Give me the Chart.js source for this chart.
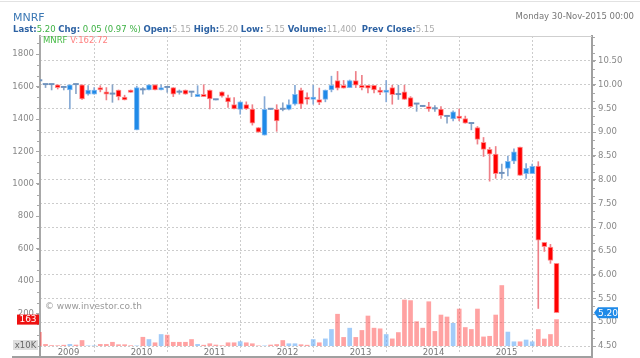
<!DOCTYPE html>
<html><head><meta charset="utf-8">
<script src="https://cdn.jsdelivr.net/npm/chart.js@4.4.0/dist/chart.umd.min.js"></script>
<style>
html,body{margin:0;padding:0;background:#fff;}
#wrap{position:relative;width:640px;height:358px;overflow:hidden;}
#c{position:absolute;left:0;top:0;}
.hdr{position:absolute;font-family:'DejaVu Sans',Verdana,sans-serif;white-space:nowrap;line-height:1;}
#title{left:13px;top:12px;font-size:11px;color:#3c78b4;}
#info{left:13px;top:25px;font-size:8.5px;}
#info b{color:#2d62a3;}
#info .g{color:#3cb043;}
#info .n{color:#aaa;}
#date{right:6px;top:12px;font-size:8.5px;color:#777;}
#topline{position:absolute;left:0;top:1px;width:640px;height:1px;background:#e2e2e2;}
</style></head>
<body><div id="wrap"><canvas id="c" width="640" height="358"></canvas>
<div id="topline"></div>
<div class="hdr" id="title">MNRF</div>
<div class="hdr" id="date">Monday 30-Nov-2015 00:00</div>
<div class="hdr" id="info"><b>Last:</b><span class="g">5.20</span> <b>Chg:</b> <span class="g">0.05 (0.97 %)</span> <b>Open:</b><span class="n">5.15</span> <b>High:</b><span class="n">5.20</span> <b>Low:</b> <span class="n">5.15</span> <b>Volume:</b><span class="n">11,400</span>&nbsp; <b>Prev Close:</b><span class="n">5.15</span></div>
</div>
<script>
// ---- data (monthly candles, MNRF) ----
const months = [
 '2008-10','2008-11','2008-12',
 '2009-01','2009-02','2009-03','2009-04','2009-05','2009-06','2009-07','2009-08','2009-09','2009-10','2009-11','2009-12',
 '2010-01','2010-02','2010-03','2010-04','2010-05','2010-06','2010-07','2010-08','2010-09','2010-10','2010-11','2010-12',
 '2011-01','2011-02','2011-03','2011-04','2011-05','2011-06','2011-07','2011-08','2011-09','2011-10','2011-11','2011-12',
 '2012-01','2012-02','2012-03','2012-04','2012-05','2012-06','2012-07','2012-08','2012-09','2012-10','2012-11','2012-12',
 '2013-01','2013-02','2013-03','2013-04','2013-05','2013-06','2013-07','2013-08','2013-09','2013-10','2013-11','2013-12',
 '2014-01','2014-02','2014-03','2014-04','2014-05','2014-06','2014-07','2014-08','2014-09','2014-10','2014-11','2014-12',
 '2015-01','2015-02','2015-03','2015-04','2015-05','2015-06','2015-07','2015-08','2015-09','2015-10','2015-11'];
const openP = [10.08,10.00,10.00,
 10.00,9.94,9.89,10.00,10.00,9.80,9.80,9.94,9.85,9.80,9.89,9.74,
 9.89,9.05,9.89,9.89,10.00,9.89,9.94,9.94,9.84,9.89,9.84,9.75,
 9.80,9.89,9.68,9.85,9.73,9.58,9.48,9.58,9.49,9.10,8.94,9.48,
 9.48,9.48,9.48,9.59,9.89,9.74,9.69,9.69,9.69,9.89,10.09,9.99,
 9.94,10.09,9.99,9.99,9.99,9.89,9.84,9.94,9.79,9.85,9.73,9.59,
 9.54,9.54,9.49,9.49,9.33,9.28,9.34,9.29,9.18,9.10,8.79,8.64,
 8.54,8.13,8.24,8.39,8.69,8.13,8.13,8.29,6.68,6.58,6.24];
const highP = [10.08,10.00,10.00,
 10.00,9.94,10.00,10.00,10.00,9.98,9.94,9.98,9.94,10.00,9.89,9.78,
 9.89,9.97,9.94,10.00,10.00,10.00,9.94,9.94,9.89,9.89,9.84,9.98,
 10.00,9.89,9.68,9.85,9.78,9.73,9.64,9.64,9.58,9.10,9.75,9.48,
 9.58,9.62,9.68,9.99,9.93,9.83,9.99,9.93,9.89,10.18,10.28,10.09,
 10.10,10.28,10.20,9.99,9.99,9.94,10.09,9.99,9.99,9.99,9.75,9.59,
 9.54,9.63,9.56,9.54,9.33,9.45,9.49,9.34,9.18,9.12,8.89,8.68,
 8.70,8.33,8.50,8.65,8.69,8.34,8.33,8.38,6.68,6.64,6.24];
const lowP = [10.08,9.94,9.89,
 9.91,9.89,9.49,9.81,9.69,9.78,9.80,9.85,9.68,9.63,9.68,9.68,
 9.84,9.05,9.80,9.89,9.89,9.89,9.84,9.75,9.80,9.80,9.75,9.75,
 9.75,9.49,9.68,9.74,9.52,9.49,9.38,9.48,9.15,9.00,8.94,9.48,
 9.02,9.45,9.47,9.57,9.50,9.59,9.59,9.58,9.64,9.85,9.89,9.93,
 9.94,9.94,9.89,9.83,9.83,9.79,9.64,9.59,9.69,9.69,9.52,9.44,
 9.54,9.44,9.44,9.29,9.19,9.24,9.24,9.19,9.05,8.75,8.49,7.97,
 8.03,8.03,8.08,8.34,8.09,8.03,8.13,5.29,6.49,6.24,5.20];
const closeP = [10.08,10.00,10.00,
 9.94,9.94,10.00,10.00,9.70,9.89,9.89,9.89,9.80,9.80,9.75,9.68,
 9.84,9.94,9.89,10.00,9.89,9.94,9.94,9.80,9.84,9.80,9.84,9.80,
 9.75,9.70,9.68,9.76,9.64,9.49,9.64,9.49,9.19,9.00,9.48,9.48,
 9.24,9.48,9.58,9.80,9.59,9.69,9.74,9.63,9.89,9.99,9.93,9.93,
 10.09,9.99,9.94,9.93,9.89,9.84,9.89,9.79,9.79,9.69,9.54,9.59,
 9.54,9.49,9.49,9.35,9.33,9.43,9.29,9.19,9.18,8.85,8.64,8.54,
 8.13,8.13,8.39,8.59,8.09,8.24,8.28,6.73,6.59,6.30,5.20];
// volume in units of 10K shares
const volume = [84,10,3,
 2,5,10,6,34,1,1,10,10,23,8,8,
 2,1,54,40,20,71,67,23,23,23,40,10,
 5,14,6,2,20,20,27,20,14,1,1,6,
 9,34,14,14,8,5,40,20,44,102,196,53,
 110,53,96,185,110,106,71,44,83,284,280,150,
 110,273,90,191,179,140,228,114,102,228,56,60,
 191,373,86,26,26,37,26,102,43,71,162.72];
const yearLabels = ['2009','2010','2011','2012','2013','2014','2015'];
const priceTicks = [4.5,5,5.5,6,6.5,7,7.5,8,8.5,9,9.5,10,10.5];
const volTicks = [200,400,600,800,1000,1200,1400,1600,1800];
const lastPrice = 5.20, lastVolLabel = '163';

// ---- helpers ----
const xOf = m => { const [y, mo] = m.split('-').map(Number); return (y - 2009) * 12 + (mo - 1); };
const xs = months.map(xOf);
const yearTicks = yearLabels.map(y => xOf(y + '-01'));
const dir = i => closeP[i] > openP[i] ? 1 : (closeP[i] < openP[i] ? -1 : 0);
const RED = '#ff0000', BLUE = '#1f8ae8', DOJI = '#6f92bd';
const bodyCol = i => dir(i) > 0 ? BLUE : dir(i) < 0 ? RED : DOJI;
const bodyBorder = i => dir(i) > 0 ? 'rgba(120,180,240,0.9)' : 'rgba(255,130,130,0.9)';
const wickCol = i => dir(i) > 0 ? '#86aad6' : dir(i) < 0 ? '#ee8088' : '#8aa6c8';
const volCol = i => dir(i) > 0 ? 'rgba(100,170,245,0.6)' : 'rgba(255,70,70,0.5)';
const FONT = "'DejaVu Sans', Verdana, sans-serif";

const overlay = {
  id: 'overlay',
  beforeDatasetsDraw(chart) {
    const {ctx, chartArea: a} = chart;
    ctx.save();
    ctx.font = '9px ' + FONT; ctx.fillStyle = '#999'; ctx.textBaseline = 'middle';
    ctx.fillText('\u00A9 www.investor.co.th', a.left + 5, 307);
    ctx.restore();
  },
  afterDraw(chart) {
    const {ctx, chartArea: a, scales} = chart;
    const yv = scales.yv, yp = scales.yp;
    ctx.save();
    // top frame
    ctx.strokeStyle = '#cfcfcf'; ctx.lineWidth = 1;
    ctx.beginPath(); ctx.moveTo(a.left, a.top + 0.5); ctx.lineTo(a.right, a.top + 0.5); ctx.stroke();
    // bottom line
    ctx.strokeStyle = '#a0a0a0'; ctx.lineWidth = 2;
    ctx.beginPath(); ctx.moveTo(12, 357); ctx.lineTo(a.right + 1, 357); ctx.stroke();
    ctx.beginPath(); ctx.moveTo(a.left, a.bottom); ctx.lineTo(a.left, 358); ctx.stroke();
    ctx.beginPath(); ctx.moveTo(a.right, a.bottom); ctx.lineTo(a.right, 358); ctx.stroke();
    // minor ticks
    ctx.strokeStyle = '#a8a8a8'; ctx.lineWidth = 1;
    for (let k = 0; k < volTicks.length * 3 + 3; k++) {
      const v = k * 200 / 3; if (v > yv.max) break;
      const y = Math.round(yv.getPixelForValue(v)) + 0.5;
      ctx.beginPath(); ctx.moveTo(a.left - 1, y); ctx.lineTo(a.left - 3, y); ctx.stroke();
    }
    for (let k = 0; k < 60; k++) {
      const v = priceTicks[0] + k * 0.5 / 3; if (v > yp.max) break;
      const y = Math.round(yp.getPixelForValue(v)) + 0.5;
      ctx.beginPath(); ctx.moveTo(a.right + 1, y); ctx.lineTo(a.right + 3, y); ctx.stroke();
    }
    // MNRF V: label
    ctx.font = '8.5px ' + FONT; ctx.textBaseline = 'middle';
    ctx.fillStyle = '#44bb44'; ctx.fillText('MNRF', a.left + 3, 41);
    const w = ctx.measureText('MNRF ').width;
    ctx.fillStyle = '#ff8080'; ctx.fillText('V:' + volume[volume.length - 1].toFixed(2), a.left + 3 + w, 41);
    // x10K box
    ctx.fillStyle = '#dedede'; ctx.fillRect(13, 340, 25, 10);
    ctx.fillStyle = '#666'; ctx.textAlign = 'center'; ctx.fillText('x10K', 25.5, 345.5);
    // last volume box
    const vy = yv.getPixelForValue(volume[volume.length - 1]);
    ctx.fillStyle = '#ee1111'; ctx.fillRect(17, vy - 5, 22, 10);
    ctx.fillStyle = '#fff'; ctx.font = '9px ' + FONT; ctx.fillText(lastVolLabel, 28, vy + 0.5);
    // last price box
    const py = yp.getPixelForValue(lastPrice);
    ctx.fillStyle = '#1f8ae8';
    ctx.beginPath(); ctx.moveTo(a.right + 2, py); ctx.lineTo(a.right + 6, py - 5.5); ctx.lineTo(a.right + 26, py - 5.5);
    ctx.lineTo(a.right + 26, py + 5.5); ctx.lineTo(a.right + 6, py + 5.5); ctx.closePath(); ctx.fill();
    ctx.fillStyle = '#fff'; ctx.font = '9px ' + FONT; ctx.fillText(lastPrice.toFixed(2), a.right + 16, py + 0.5);
    ctx.restore();
  }
};

new Chart(document.getElementById('c'), {
  type: 'bar',
  data: {
    datasets: [
      { label: 'body', yAxisID: 'yp', order: 1,
        data: xs.map((x, i) => ({x, y: [openP[i], closeP[i]]})),
        backgroundColor: c => bodyCol(c.dataIndex),
        borderColor: c => bodyBorder(c.dataIndex),
        borderWidth: c => dir(c.dataIndex) === 0 ? 0 : 1,
        borderSkipped: false, barThickness: 5, minBarLength: 1.3 },
      { label: 'wick', yAxisID: 'yp', order: 2,
        data: xs.map((x, i) => ({x, y: [lowP[i], highP[i]]})),
        backgroundColor: c => wickCol(c.dataIndex),
        borderWidth: 0, barThickness: 1 },
      { label: 'volume', yAxisID: 'yv', order: 3,
        data: xs.map((x, i) => ({x, y: volume[i]})),
        backgroundColor: c => volCol(c.dataIndex),
        borderWidth: 0, barThickness: 4 }
    ]
  },
  options: {
    responsive: false, animation: false,
    layout: { padding: { top: 36, left: 0, right: 0, bottom: 0 } },
    datasets: { bar: { grouped: false } },
    plugins: { legend: { display: false }, tooltip: { enabled: false } },
    scales: {
      x: { type: 'linear', min: -2.91, max: 87.83, offset: false,
        afterBuildTicks: s => { s.ticks = yearTicks.map(v => ({value: v})); },
        afterFit: s => { s.height = 12; },
        ticks: { align: 'start', maxRotation: 0, autoSkip: false, padding: -4,
          color: '#777', font: { family: FONT, size: 8.5 },
          callback: (v) => yearLabels[yearTicks.indexOf(v)] },
        grid: { color: '#cccccc', lineWidth: 1, drawTicks: true, tickLength: 6, tickColor: '#cccccc', tickBorderDash: [2, 2] },
        border: { display: false, dash: [2, 2] } },
      yv: { position: 'left', min: 0, max: 1912,
        afterBuildTicks: s => { s.ticks = volTicks.map(v => ({value: v})); },
        afterFit: s => { s.width = 40; },
        ticks: { padding: 2, color: '#888', font: { family: FONT, size: 8.5 }, callback: v => String(v) },
        grid: { drawOnChartArea: false, drawTicks: true, tickLength: 4, tickColor: '#a8a8a8' },
        border: { display: true, color: '#a8a8a8', width: 2 } },
      yp: { position: 'right', min: 4.5, max: 11.026,
        afterBuildTicks: s => { s.ticks = priceTicks.map(v => ({value: v})); },
        afterFit: s => { s.width = 48; },
        ticks: { padding: 2, color: '#888', font: { family: FONT, size: 8.5 }, callback: v => Number(v).toFixed(2) },
        grid: { drawOnChartArea: true, color: '#cccccc', drawTicks: true, tickLength: 4, tickColor: '#a8a8a8', tickBorderDash: [] },
        border: { display: true, color: '#a0a0a0', width: 2, dash: [2, 2] } }
    }
  },
  plugins: [overlay]
});
</script>
</body></html>
